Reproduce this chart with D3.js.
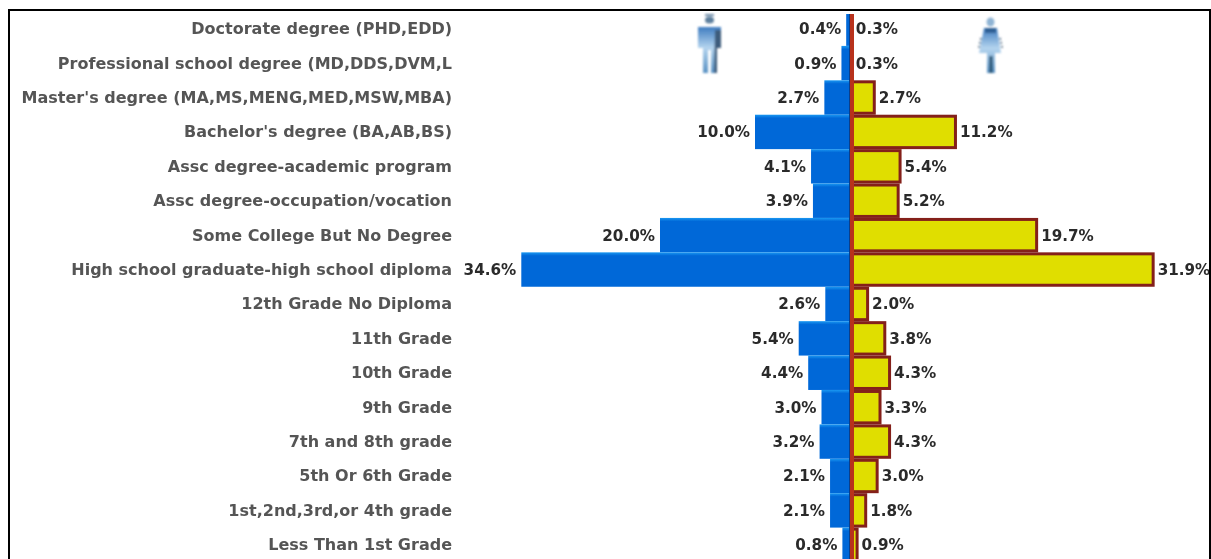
<!DOCTYPE html>
<html>
<head>
<meta charset="utf-8">
<script src="https://cdn.jsdelivr.net/npm/d3@7"></script>
<style>
html, body { margin: 0; padding: 0; background: #fff; overflow: hidden; }
text { font-family: "DejaVu Sans", Verdana, sans-serif; font-weight: bold; }
</style>
</head>
<body>
<div id="chart"></div>
<script>
var categories = [
    "Doctorate degree (PHD,EDD)",
    "Professional school degree (MD,DDS,DVM,L",
    "Master's degree (MA,MS,MENG,MED,MSW,MBA)",
    "Bachelor's degree (BA,AB,BS)",
    "Assc degree-academic program",
    "Assc degree-occupation/vocation",
    "Some College But No Degree",
    "High school graduate-high school diploma",
    "12th Grade No Diploma",
    "11th Grade",
    "10th Grade",
    "9th Grade",
    "7th and 8th grade",
    "5th Or 6th Grade",
    "1st,2nd,3rd,or 4th grade",
    "Less Than 1st Grade"
];
var maleValues = [0.4, 0.9, 2.7, 10.0, 4.1, 3.9, 20.0, 34.6, 2.6, 5.4, 4.4, 3.0, 3.2, 2.1, 2.1, 0.8];
var femaleValues = [0.3, 0.3, 2.7, 11.2, 5.4, 5.2, 19.7, 31.9, 2.0, 3.8, 4.3, 3.3, 4.3, 3.0, 1.8, 0.9];

var svgWidth = 1211;
var svgHeight = 559;
var centerX = 850;
var pxPerPct = 9.5;
var pxPerPctRight = 9.55;

var svg = d3.select("#chart")
    .append("svg")
    .attr("width", svgWidth)
    .attr("height", svgHeight);

var y = d3.scaleBand()
    .domain(categories)
    .range([11.5, 562])
    .padding(0);

var xLeft = d3.scaleLinear().domain([0, 34.6]).range([centerX, centerX - 34.6 * pxPerPct]);
var xRight = d3.scaleLinear().domain([0, 31.9]).range([centerX, centerX + 31.9 * pxPerPctRight]);

var defs = svg.append("defs");

var grad = defs.append("linearGradient")
    .attr("id", "blueBar")
    .attr("x1", 0).attr("x2", 0).attr("y1", 0).attr("y2", 1);
grad.append("stop").attr("offset", "0%").attr("stop-color", "#1a98f2");
grad.append("stop").attr("offset", "10%").attr("stop-color", "#0068d8");
grad.append("stop").attr("offset", "100%").attr("stop-color", "#0068d8");

var figure = defs.append("linearGradient")
    .attr("id", "figureFill")
    .attr("x1", 0).attr("x2", 0).attr("y1", 0).attr("y2", 1);
figure.append("stop").attr("offset", "0%").attr("stop-color", "#3f7cc0");
figure.append("stop").attr("offset", "45%").attr("stop-color", "#b4d4ee");
figure.append("stop").attr("offset", "100%").attr("stop-color", "#5a92c4");

// the reference is an upscaled picture, so everything is a bit soft
defs.append("filter").attr("id", "soft")
    .append("feGaussianBlur").attr("stdDeviation", 0.55);
defs.append("filter").attr("id", "softer")
    .append("feGaussianBlur").attr("stdDeviation", 0.8);

defs.append("clipPath").attr("id", "plotClip")
    .append("rect").attr("x", 0).attr("y", 14).attr("width", svgWidth).attr("height", svgHeight);

var bars = svg.append("g").attr("clip-path", "url(#plotClip)");

// male bars
bars.selectAll(".male")
    .data(categories)
    .enter()
    .append("rect")
    .attr("class", "male")
    .attr("x", (d, i) => xLeft(maleValues[i]))
    .attr("y", d => y(d))
    .attr("width", (d, i) => centerX - xLeft(maleValues[i]))
    .attr("height", y.bandwidth())
    .attr("fill", "url(#blueBar)");

// female bars
bars.selectAll(".female")
    .data(categories)
    .enter()
    .append("rect")
    .attr("class", "female")
    .attr("x", centerX + 1.5)
    .attr("y", d => y(d) + 1.5)
    .attr("width", (d, i) => Math.max(0, xRight(femaleValues[i]) - centerX - 3))
    .attr("height", y.bandwidth() - 3)
    .attr("fill", "#e0de00")
    .attr("stroke", "#84201a")
    .attr("stroke-width", 3);

// centre line, thin dark blue then red
bars.append("line")
    .attr("x1", centerX - 0.5).attr("x2", centerX - 0.5)
    .attr("y1", 14).attr("y2", svgHeight)
    .attr("stroke", "#0a3f8c")
    .attr("stroke-width", 1);
bars.append("line")
    .attr("x1", centerX + 2).attr("x2", centerX + 2)
    .attr("y1", 14).attr("y2", svgHeight)
    .attr("stroke", "#b8321c")
    .attr("stroke-width", 4);

// category labels
svg.append("g").attr("filter", "url(#soft)")
    .selectAll(".cat")
    .data(categories)
    .enter()
    .append("text")
    .attr("class", "cat")
    .attr("x", 452)
    .attr("y", d => y(d) + y.bandwidth() / 2 + 5.5)
    .attr("text-anchor", "end")
    .attr("font-size", 16)
    .attr("fill", "#555")
    .text(d => d);

// value labels
svg.append("g").attr("filter", "url(#soft)")
    .selectAll(".maleLabel")
    .data(categories)
    .enter()
    .append("text")
    .attr("class", "maleLabel")
    .attr("x", (d, i) => xLeft(maleValues[i]) - 5)
    .attr("y", d => y(d) + y.bandwidth() / 2 + 5.5)
    .attr("text-anchor", "end")
    .attr("font-size", 15.2)
    .attr("fill", "#2a2a2a")
    .text((d, i) => maleValues[i].toFixed(1) + "%");

svg.append("g").attr("filter", "url(#soft)")
    .selectAll(".femaleLabel")
    .data(categories)
    .enter()
    .append("text")
    .attr("class", "femaleLabel")
    .attr("x", (d, i) => xRight(femaleValues[i]) + 3)
    .attr("y", d => y(d) + y.bandwidth() / 2 + 5.5)
    .attr("font-size", 15.2)
    .attr("fill", "#2a2a2a")
    .text((d, i) => femaleValues[i].toFixed(1) + "%");

// man icon
var man = svg.append("g").attr("filter", "url(#softer)");
man.append("rect").attr("x", 705).attr("y", 14).attr("width", 9).attr("height", 2).attr("fill", "#6d8aa6");
man.append("ellipse").attr("cx", 709.5).attr("cy", 20).attr("rx", 4.5).attr("ry", 3.5).attr("fill", "#5d7f9e");
man.append("path")
    .attr("d", "M698,27H721V48H717V73H711V50H708V73H703V48H698Z")
    .attr("fill", "url(#figureFill)");
man.append("path").attr("d", "M715,30H721V48H717V73H714Z").attr("fill", "#3c5c7c");

// woman icon
var woman = svg.append("g").attr("filter", "url(#softer)");
woman.append("ellipse").attr("cx", 990.5).attr("cy", 22).attr("rx", 4).attr("ry", 4.5).attr("fill", "#8fb4d4");
woman.append("path")
    .attr("d", "M984,28H997L1001,53H995V73H987V53H979Z")
    .attr("fill", "url(#figureFill)");
woman.append("rect").attr("x", 985).attr("y", 28).attr("width", 11).attr("height", 5).attr("fill", "#2f5f94");
woman.append("path").attr("d", "M981,38L979,48M1000,38L1002,48").attr("stroke", "#33506c").attr("stroke-width", 1.5).attr("stroke-dasharray", "2,2");
woman.append("rect").attr("x", 989.5).attr("y", 56).attr("width", 3).attr("height", 17).attr("fill", "#24506e");

// frame, no bottom edge because the picture is cut off there
svg.append("path")
    .attr("d", "M9,559V10H1210V559")
    .attr("fill", "none")
    .attr("stroke", "#000")
    .attr("stroke-width", 2);
</script>
</body>
</html>
